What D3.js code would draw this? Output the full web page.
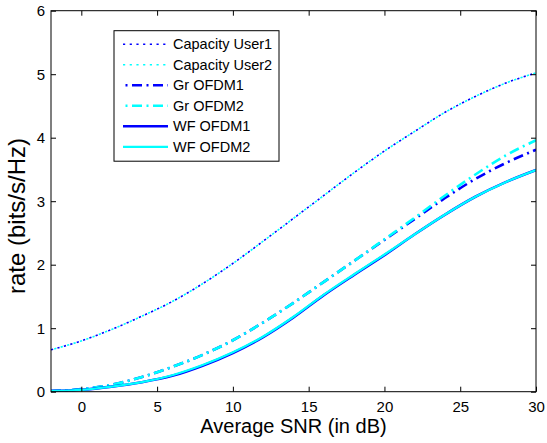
<!DOCTYPE html>
<html>
<head>
<meta charset="utf-8">
<script src="https://cdn.jsdelivr.net/npm/d3@7"></script>
<style>
  body { margin: 0; background: #fff; }
  svg { display: block; }
  svg text { font-family: "Liberation Sans", Arial, sans-serif; }
</style>
</head>
<body>
<svg id="chart"></svg>
<script>
// SNR points (dB)
let snr = [-2, 0, 2, 4, 6, 8, 10, 12, 14, 16, 18, 20, 22, 24, 26, 28, 30];
// rates
let capUser1 = [0.66, 0.80, 0.98, 1.19, 1.42, 1.70, 2.02, 2.37, 2.73, 3.09, 3.45, 3.79, 4.10, 4.40, 4.65, 4.86, 5.02];
let capUser2 = [0.66, 0.80, 0.98, 1.19, 1.42, 1.70, 2.02, 2.37, 2.73, 3.09, 3.45, 3.79, 4.10, 4.40, 4.65, 4.86, 5.02];
let grOfdm1 = [0.01, 0.04, 0.11, 0.23, 0.39, 0.58, 0.81, 1.09, 1.40, 1.73, 2.06, 2.39, 2.72, 3.05, 3.35, 3.60, 3.81];
let grOfdm2 = [0.01, 0.04, 0.11, 0.23, 0.39, 0.58, 0.81, 1.09, 1.40, 1.73, 2.06, 2.40, 2.74, 3.09, 3.42, 3.72, 3.96];
let wfOfdm1 = [0.01, 0.03, 0.08, 0.15, 0.25, 0.41, 0.61, 0.86, 1.17, 1.52, 1.84, 2.15, 2.48, 2.79, 3.07, 3.30, 3.49];
let wfOfdm2 = [0.01, 0.03, 0.08, 0.15, 0.26, 0.42, 0.62, 0.87, 1.18, 1.53, 1.85, 2.16, 2.48, 2.79, 3.07, 3.30, 3.49];
let xTicks = [0, 5, 10, 15, 20, 25, 30];
let yTicks = [0, 1, 2, 3, 4, 5, 6];
let seriesNames = ["Capacity User1", "Capacity User2", "Gr OFDM1", "Gr OFDM2", "WF OFDM1", "WF OFDM2"];

var svgWidth = 547, svgHeight = 443;
var margin = { top: 10.7, right: 11, bottom: 51.3, left: 51 };
var width = svgWidth - margin.left - margin.right;
var height = svgHeight - margin.top - margin.bottom;

var svg = d3.select('#chart')
  .attr("width", svgWidth)
  .attr("height", svgHeight);

var g = svg.append("g")
  .attr("transform", "translate(" + margin.left + "," + margin.top + ")");

var x = d3.scaleLinear().domain([-2, 30]).range([0, width]);
var y = d3.scaleLinear().domain([0, 6]).range([height, 0]);

// line styles per series
var styles = [
  { values: capUser1, color: "#0000ff", width: 1.6, dash: "2.2,4.5", offset: 0 },
  { values: capUser2, color: "#00ffff", width: 1.6, dash: "2.2,4.5", offset: 3.3 },
  { values: grOfdm1, color: "#0000ff", width: 2.6, dash: "10,4.5,2,4.5", offset: 0 },
  { values: grOfdm2, color: "#00ffff", width: 2.6, dash: "10,4.5,2,4.5", offset: 0 },
  { values: wfOfdm1, color: "#0000ff", width: 2.6, dash: null, offset: 0 },
  { values: wfOfdm2, color: "#00ffff", width: 2.2, dash: null, offset: 0 }
];

var line = d3.line()
  .x(function(d) { return x(d[0]); })
  .y(function(d) { return y(d[1]); })
  .curve(d3.curveMonotoneX);

g.append("clipPath").attr("id", "clip")
  .append("rect").attr("width", width).attr("height", height);

var plot = g.append("g").attr("clip-path", "url(#clip)");

styles.forEach(function(s) {
  var pts = snr.map(function(v, i) { return [v, s.values[i]]; });
  var p = plot.append("path")
    .datum(pts)
    .attr("fill", "none")
    .attr("stroke", s.color)
    .attr("stroke-width", s.width)
    .attr("d", line);
  if (s.dash) {
    p.attr("stroke-dasharray", s.dash).attr("stroke-dashoffset", s.offset);
  }
});

// axes, ticks pointing inward
function styleAxis(sel) {
  sel.attr("font-family", null).attr("font-size", null);
  sel.select(".domain").remove();
  sel.selectAll(".tick line").attr("stroke", "#000");
  sel.selectAll("text").attr("fill", "#000").style("font-size", "15px");
}

g.append("g")
  .attr("transform", "translate(0," + height + ")")
  .call(d3.axisBottom(x).tickValues(xTicks).tickSizeInner(-5).tickSizeOuter(0).tickPadding(10).tickFormat(d3.format("d")))
  .call(styleAxis);

g.append("g")
  .call(d3.axisTop(x).tickValues(xTicks).tickSizeInner(-5).tickSizeOuter(0).tickFormat(""))
  .call(styleAxis);

g.append("g")
  .call(d3.axisLeft(y).tickValues(yTicks).tickSizeInner(-5).tickSizeOuter(0).tickPadding(6).tickFormat(d3.format("d")))
  .call(styleAxis);

g.append("g")
  .attr("transform", "translate(" + width + ",0)")
  .call(d3.axisRight(y).tickValues(yTicks).tickSizeInner(-5).tickSizeOuter(0).tickFormat(""))
  .call(styleAxis);

g.append("rect")
  .attr("width", width)
  .attr("height", height)
  .attr("fill", "none")
  .attr("stroke", "#000")
  .attr("stroke-width", 1);

// axis labels
svg.append("text")
  .attr("x", margin.left + width / 2)
  .attr("y", 433)
  .attr("text-anchor", "middle")
  .style("font-size", "20px")
  .text("Average SNR (in dB)");

svg.append("text")
  .attr("transform", "translate(25,216) rotate(-90)")
  .attr("text-anchor", "middle")
  .style("font-size", "24px")
  .text("rate (bits/s/Hz)");

// legend
var legend = svg.append("g").attr("transform", "translate(114,30.7)");
legend.append("rect")
  .attr("width", 165)
  .attr("height", 130.5)
  .attr("fill", "#fff")
  .attr("stroke", "#000")
  .attr("stroke-width", 1);

styles.forEach(function(s, i) {
  var cy = 13.6 + i * 20.5;
  var l = legend.append("line")
    .attr("x1", 9).attr("x2", 54)
    .attr("y1", cy).attr("y2", cy)
    .attr("stroke", s.color)
    .attr("stroke-width", s.width);
  if (s.dash) {
    l.attr("stroke-dasharray", s.dash).attr("stroke-dashoffset", i < 2 ? 0 : 12);
  }
  legend.append("text")
    .attr("x", 59)
    .attr("y", cy + 5)
    .style("font-size", "14.5px")
    .text(seriesNames[i]);
});
</script>
</body>
</html>
